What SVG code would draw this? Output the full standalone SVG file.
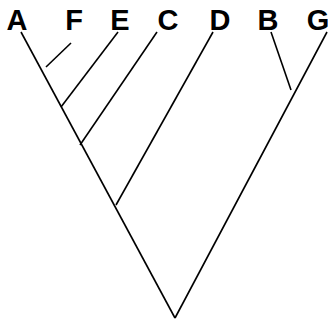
<svg xmlns="http://www.w3.org/2000/svg" width="328" height="321" viewBox="0 0 328 321">
<style>
.lbl{font-family:"Liberation Sans",Arial,sans-serif;font-weight:bold;font-size:29px;fill:#000;text-anchor:middle}
.br{stroke:#000;stroke-width:1.6;fill:none;stroke-linecap:butt}
</style>
<rect width="328" height="321" fill="#fff"/>
<g id="connectors">
<line class="br" x1="21" y1="32" x2="175" y2="318"/>
<line class="br" x1="327" y1="32" x2="175" y2="318"/>
<line class="br" x1="71" y1="43" x2="46" y2="67"/>
<line class="br" x1="118" y1="32" x2="61" y2="107"/>
<line class="br" x1="157" y1="32" x2="80" y2="145"/>
<line class="br" x1="213" y1="32" x2="116" y2="205"/>
<line class="br" x1="271" y1="32" x2="291" y2="90"/>
</g>
<g id="A"><text class="lbl" x="17" y="30">A</text></g>
<g id="F"><text class="lbl" x="74" y="30">F</text></g>
<g id="E"><text class="lbl" x="120" y="30">E</text></g>
<g id="C"><text class="lbl" x="168" y="30">C</text></g>
<g id="D"><text class="lbl" x="220" y="30">D</text></g>
<g id="B"><text class="lbl" x="268" y="30">B</text></g>
<g id="G"><text class="lbl" x="318" y="30">G</text></g>
</svg>
